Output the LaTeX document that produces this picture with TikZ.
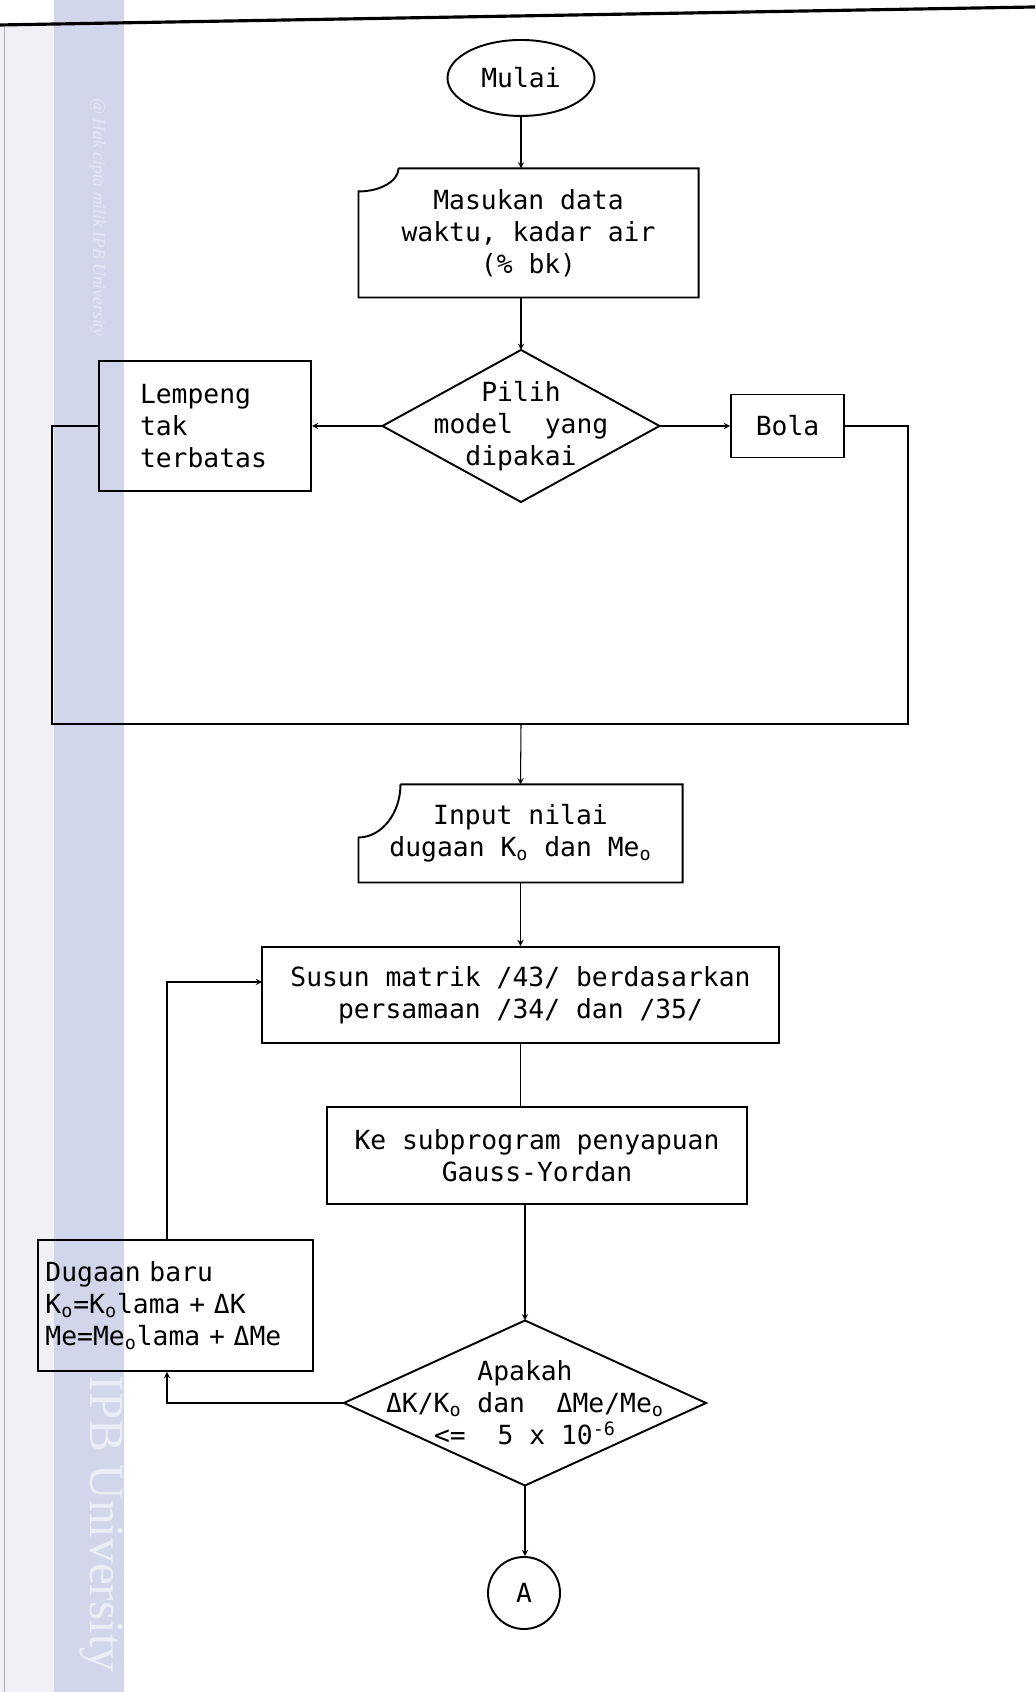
\documentclass[tikz,border=0pt]{standalone}
\usepackage{fontspec}
\setmainfont{Liberation Serif}
\setmonofont{DejaVu Sans Mono}
\usepackage{tikz}
\usetikzlibrary{shapes, arrows, positioning, calc}

\definecolor{pita}{RGB}{210,214,234}
\definecolor{pinggir}{RGB}{241,241,245}
\definecolor{tanda}{RGB}{236,238,246}

\tikzset{
	garis/.style={line width=1.1pt},
	terminal/.style={ellipse,draw,garis,minimum width=2.94cm,minimum height=1.52cm,inner sep=0pt},
	process/.style={rectangle,draw,garis,align=center},
	card/.style={rectangle,align=center},
	decision/.style={rectangle,align=center,inner sep=0pt},
	connector/.style={circle,draw,garis,minimum size=1.44cm,inner sep=0pt}
}

\begin{document}
\begin{tikzpicture}[font=\ttfamily\fontsize{15}{18.2}\selectfont, >=stealth, semithick]
		\useasboundingbox (0,0) rectangle (20.7,33.84);
		%scan background
		\fill[pinggir] (0,0) rectangle (1.08,33.34);
		\fill[pita] (1.08,0) rectangle (2.48,33.84);
		\draw[gray!60,thin] (0.08,0) -- (0.08,33.34);
		\draw[line width=1.8pt] (0,33.34) -- (20.7,33.70);
		\node[rotate=-90,anchor=west,text=pita!60!white,font=\rmfamily\itshape\fontsize{10}{12}\selectfont] (W1) at (1.95,32.0) {@ Hak cipta milik IPB University};
		\node[rotate=-90,anchor=west,text=tanda,font=\rmfamily\fontsize{28}{32}\selectfont] (W2) at (2.02,6.45) {IPB University};

		\node[terminal] (A) at (10.42,32.28) {Mulai};
		\node[card,minimum width=6.78cm,minimum height=2.56cm] (B) at (10.57,29.18) {Masukan data\\waktu, kadar air\\(\% bk)};
		\node[decision,minimum width=5.52cm,minimum height=3.02cm] (C) at (10.42,25.32) {Pilih\\model~~yang\\dipakai};
		\node[process,minimum width=4.24cm,minimum height=2.6cm,text width=2.6cm,align=left] (D) at (4.10,25.32) {Lempeng\\tak\\terbatas};
		\node[process,minimum width=2.26cm,minimum height=1.26cm] (E) at (15.75,25.32) {Bola};
		\node[card,minimum width=6.46cm,minimum height=1.94cm] (F) at (10.41,17.17) {Input nilai\\dugaan K\textsubscript{o} dan Me\textsubscript{o}};
		\node[process,minimum width=10.34cm,minimum height=1.92cm] (G) at (10.41,13.94) {Susun matrik /43/ berdasarkan\\persamaan /34/ dan /35/};
		\node[process,minimum width=8.4cm,minimum height=1.94cm] (H) at (10.74,10.73) {Ke subprogram penyapuan\\Gauss-Yordan};
		\node[decision,minimum width=7.22cm,minimum height=3.28cm] (I) at (10.5,5.78) {Apakah\\ΔK/K\textsubscript{o} dan~~ΔMe/Me\textsubscript{o}\\<=~~5 x 10\textsuperscript{-6}};
		\node[process,minimum width=5.5cm,minimum height=2.62cm,text width=5.2cm,align=left,inner xsep=0.15cm] (K) at (3.51,7.73) {Dugaan baru\\K\textsubscript{o}=K\textsubscript{o}lama + ΔK\\Me=Me\textsubscript{o}lama + ΔMe};
		\node[connector] (N) at (10.48,1.98) {A};

		\coordinate (J) at (10.42,19.36);
		\coordinate (J1) at (18.16,19.36);
		\coordinate (J2) at (1.04,19.36);
		\coordinate (L) at (3.34,0);
		\coordinate (M) at (5.24,14.20);

		%card and decision outlines
		\draw[garis] ($(B.north west)+(0.8,0)$) -- (B.north east) -- (B.south east) -- (B.south west) -- ($(B.north west)+(0,-0.46)$) .. controls ($(B.north west)+(0.44,-0.46)$) and ($(B.north west)+(0.8,-0.25)$) .. ($(B.north west)+(0.8,0)$);
		\draw[garis] ($(F.north west)+(0.84,0)$) -- (F.north east) -- (F.south east) -- (F.south west) -- ($(F.north west)+(0,-1.06)$) .. controls ($(F.north west)+(0.46,-1.06)$) and ($(F.north west)+(0.84,-0.58)$) .. ($(F.north west)+(0.84,0)$);
		\draw[garis] (C.north) -- (C.east) -- (C.south) -- (C.west) -- cycle;
		\draw[garis] (I.north) -- (I.east) -- (I.south) -- (I.west) -- cycle;

		\draw[->] (A.south) -- (A.south |- B.north);
		\draw[->] (A.south |- B.south) -- (C.north);
		\draw[->] (C.west) -- (D.east);
		\draw[->] (C.east) -- (E.west);
		\draw (E.east) -| (J1) -- (J2) |- (D.west);
		\draw[->] (J) -- (F.north);
		\draw[->] (F.south) -- (G.north);
		\draw (G.south) -- (G.south |- H.north);
		\draw[->] (I.north |- H.south) -- (I.north);
		\draw[->] (I.west) -| (L |- K.south);
		\draw[->] (L |- K.north) |- (M);
		\draw[->] (I.south) -- (I.south |- N.north);

	\end{tikzpicture}
\end{document}
